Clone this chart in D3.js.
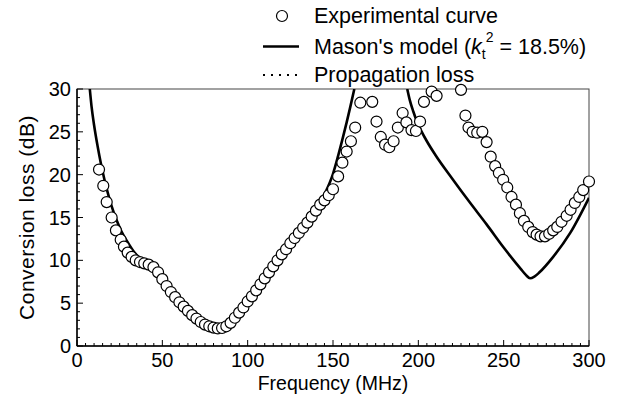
<!DOCTYPE html>
<html>
<head>
<meta charset="utf-8">
<script src="https://cdn.jsdelivr.net/npm/d3@7"></script>
<style>
  body { margin: 0; background: #fff; }
  svg text { font-family: "Liberation Sans", Arial, sans-serif; fill: #000; }
</style>
</head>
<body>
<div id="chart"></div>
<script>
// experimental curve: [frequency MHz, conversion loss dB]
const expFreq = [12.9, 15.4, 17.4, 20.3, 22.8, 25.6, 27.5, 29.7, 32.0, 34.4, 36.9, 39.4, 42.0, 44.8, 47.5, 50, 52.5, 55, 57.5, 60, 62.5, 65, 67.5, 70, 72.5, 75, 77.5, 80, 82.5, 85, 87.5, 90, 92.5, 95, 97.5, 100, 102.5, 105, 107.5, 110, 112.5, 115, 117.5, 120, 122.5, 125, 127.5, 130, 132.5, 135, 137.5, 140, 142.5, 145, 147.5, 150, 153, 155.5, 158, 160.5, 163, 166, 173, 175.5, 178, 180.5, 183, 185.5, 188, 190.8, 193, 196, 198.6, 201, 203.3, 207.8, 210.7, 225, 227.6, 229.4, 231.8, 234.5, 237.5, 240, 242.4, 245, 247.2, 249.7, 252.1, 254.6, 257.2, 259.5, 261.9, 264.4, 267, 269.3, 271.6, 274.2, 276.7, 279, 281.4, 283.9, 286.9, 289.2, 291.7, 294.3, 296.6, 300];
const expLoss = [20.6, 18.7, 16.8, 15.0, 13.5, 12.4, 11.6, 10.9, 10.4, 10.0, 9.8, 9.65, 9.5, 9.2, 8.6, 7.8, 7.0, 6.3, 5.7, 5.1, 4.6, 4.1, 3.6, 3.2, 2.8, 2.5, 2.3, 2.15, 2.05, 2.1, 2.3, 2.7, 3.3, 3.9, 4.5, 5.2, 5.8, 6.5, 7.2, 7.9, 8.6, 9.3, 10.0, 10.7, 11.3, 12.0, 12.6, 13.2, 13.8, 14.4, 15.1, 15.8, 16.5, 17.0, 17.6, 18.3, 19.8, 21.4, 22.7, 23.9, 25.5, 28.4, 28.5, 26.2, 24.4, 23.5, 23.2, 23.9, 25.5, 27.2, 26.1, 25.2, 25.1, 26.2, 28.5, 29.7, 29.2, 29.9, 26.9, 25.5, 25.0, 24.9, 25.0, 23.8, 22.1, 21.0, 20.2, 19.4, 18.5, 17.4, 16.5, 15.5, 14.6, 13.9, 13.3, 13.0, 12.8, 12.8, 13.1, 13.5, 13.9, 14.5, 15.2, 15.9, 16.7, 17.4, 18.2, 19.2];

// Mason's model, two branches
const masonLowFreq = [7.5, 8.5, 10, 12, 14, 16, 18, 20, 23, 26, 30, 33, 36, 40, 43, 47, 50, 55, 60, 65, 70, 75, 80, 83, 86, 90, 95, 100, 105, 110, 115, 120, 125, 130, 135, 140, 145, 150, 153, 156, 158, 160, 162.5];
const masonLowLoss = [30, 28, 25.8, 23.4, 21.3, 19.5, 17.9, 16.5, 14.8, 13.4, 12.0, 11.1, 10.4, 9.7, 9.2, 8.3, 7.6, 6.3, 5.1, 4.1, 3.3, 2.7, 2.2, 2.05, 2.2, 2.9, 4.0, 5.2, 6.4, 7.7, 9.0, 10.3, 11.6, 12.9, 14.3, 15.8, 17.7, 20.1, 22.2, 24.5, 26.1, 27.8, 30];
const masonHighFreq = [193.5, 195, 197, 199, 202, 205, 210, 220, 230, 240, 250, 260, 263, 265.5, 268, 271, 279, 289, 300];
const masonHighLoss = [30, 28.7, 27.4, 26.3, 25.0, 23.9, 22.3, 19.5, 16.8, 14.2, 11.5, 9.0, 8.3, 7.9, 8.1, 8.6, 10.4, 13.2, 17.3];

const legendLabels = ["Experimental curve", "Mason's model", "Propagation loss"];
const xTicks = [0, 50, 100, 150, 200, 250, 300];
const yTicks = [0, 5, 10, 15, 20, 25, 30];

const W = 618, H = 400;
const margin = { top: 89, right: 29, bottom: 54, left: 77 };
const innerW = W - margin.left - margin.right;
const innerH = H - margin.top - margin.bottom;

const x = d3.scaleLinear().domain([0, 300]).range([margin.left, margin.left + innerW]);
const y = d3.scaleLinear().domain([0, 30]).range([margin.top + innerH, margin.top]);

const svg = d3.select("#chart").append("svg")
  .attr("width", W).attr("height", H);

svg.append("defs").append("clipPath").attr("id", "plot-clip")
  .append("rect")
  .attr("x", margin.left).attr("y", margin.top)
  .attr("width", innerW).attr("height", innerH);

// frame
svg.append("rect")
  .attr("x", margin.left).attr("y", margin.top)
  .attr("width", innerW).attr("height", innerH)
  .attr("fill", "none").attr("stroke", "#444").attr("stroke-width", 1);

// ticks (inward)
const minorX = d3.range(0, 301, 5).filter(v => v % 50 !== 0);
const minorY = d3.range(0, 31, 1).filter(v => v % 5 !== 0);
const tickG = svg.append("g").attr("stroke", "#000").attr("stroke-width", 1);
tickG.selectAll(".xmin").data(minorX).join("line")
  .attr("x1", d => x(d)).attr("x2", d => x(d))
  .attr("y1", y(0)).attr("y2", y(0) - 3);
tickG.selectAll(".xmaj").data(xTicks).join("line")
  .attr("x1", d => x(d)).attr("x2", d => x(d))
  .attr("y1", y(0)).attr("y2", y(0) - 6);
tickG.selectAll(".ymin").data(minorY).join("line")
  .attr("y1", d => y(d)).attr("y2", d => y(d))
  .attr("x1", x(0)).attr("x2", x(0) + 3);
tickG.selectAll(".ymaj").data(yTicks).join("line")
  .attr("y1", d => y(d)).attr("y2", d => y(d))
  .attr("x1", x(0)).attr("x2", x(0) + 6);

// axis lines
svg.append("line").attr("x1", x(0)).attr("x2", x(300)).attr("y1", y(0)).attr("y2", y(0))
  .attr("stroke", "#000").attr("stroke-width", 1.5);
svg.append("line").attr("x1", x(0)).attr("x2", x(0)).attr("y1", y(0)).attr("y2", y(30))
  .attr("stroke", "#000").attr("stroke-width", 1.5);

// tick labels
svg.selectAll(".xlab").data(xTicks).join("text")
  .attr("x", d => x(d)).attr("y", y(0) + 21)
  .attr("text-anchor", "middle").style("font-size", "20px").text(d => d);
svg.selectAll(".ylab").data(yTicks).join("text")
  .attr("x", x(0) - 6).attr("y", d => y(d) + 7)
  .attr("text-anchor", "end").style("font-size", "20px").text(d => d);

// axis titles
svg.append("text").attr("x", (x(0) + x(300)) / 2).attr("y", 390)
  .attr("text-anchor", "middle").style("font-size", "19.5px").text("Frequency (MHz)");
svg.append("text")
  .attr("transform", `translate(34,${(y(0) + y(30)) / 2}) rotate(-90)`)
  .attr("text-anchor", "middle").style("font-size", "21px").style("letter-spacing", "0.5px")
  .text("Conversion loss (dB)");

// Mason's model lines
const line = d3.line().x(d => x(d[0])).y(d => y(d[1])).curve(d3.curveMonotoneX);
const plotG = svg.append("g").attr("clip-path", "url(#plot-clip)");
[[masonLowFreq, masonLowLoss], [masonHighFreq, masonHighLoss]].forEach(([fs, ls]) => {
  plotG.append("path")
    .datum(fs.map((f, i) => [f, ls[i]]))
    .attr("d", line)
    .attr("fill", "none").attr("stroke", "#000").attr("stroke-width", 2.6);
});

// experimental circles
svg.append("g").selectAll("circle")
  .data(expFreq.map((f, i) => [f, expLoss[i]]))
  .join("circle")
  .attr("cx", d => x(d[0])).attr("cy", d => y(d[1]))
  .attr("r", 5.5)
  .attr("fill", "#fff").attr("stroke", "#000").attr("stroke-width", 1.2);

// legend
const lgFont = "21.5px";
const lg = svg.append("g");
lg.append("circle").attr("cx", 282).attr("cy", 16).attr("r", 5.5)
  .attr("fill", "#fff").attr("stroke", "#000").attr("stroke-width", 1.2);
lg.append("text").attr("x", 314).attr("y", 22.5).style("font-size", lgFont).text(legendLabels[0]);

lg.append("line").attr("x1", 263).attr("x2", 299).attr("y1", 46.5).attr("y2", 46.5)
  .attr("stroke", "#000").attr("stroke-width", 2.6);
const t2 = lg.append("text").attr("x", 314).attr("y", 54).style("font-size", lgFont);
t2.append("tspan").text(legendLabels[1] + " (");
t2.append("tspan").style("font-style", "italic").text("k");
t2.append("tspan").attr("dy", 5).style("font-size", "14px").text("t");
t2.append("tspan").attr("dy", -17).style("font-size", "14px").text("2");
t2.append("tspan").attr("dy", 12).text(" = 18.5%)");

lg.append("line").attr("x1", 263).attr("x2", 299).attr("y1", 75).attr("y2", 75)
  .attr("stroke", "#000").attr("stroke-width", 2).attr("stroke-dasharray", "2,6");
lg.append("text").attr("x", 314).attr("y", 81.5).style("font-size", lgFont).text(legendLabels[2]);
</script>
</body>
</html>
